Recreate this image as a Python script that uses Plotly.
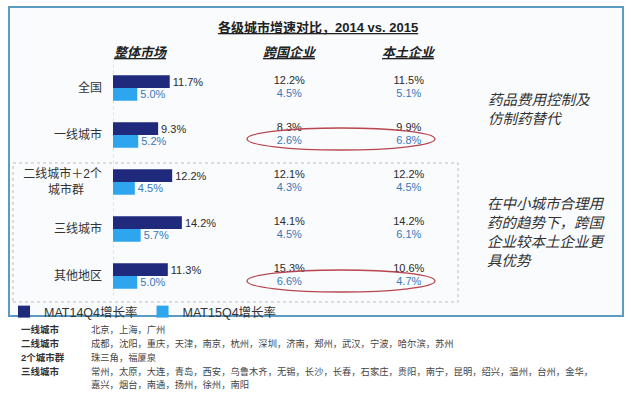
import plotly.graph_objects as go

W, H = 631, 395

# ---- data ----
categories = ["全国", "一线城市", "二线城市＋2个<br>城市群\u3000\u2002", "三线城市", "其他地区"]
series_names = ["MAT14Q4增长率", "MAT15Q4增长率"]
groups = ["跨国企业", "本土企业"]
total_14 = [11.7, 9.3, 12.2, 14.2, 11.3]
total_15 = [5.0, 5.2, 4.5, 5.7, 5.0]
mnc_14 = [12.2, 8.3, 12.1, 14.1, 15.3]
mnc_15 = [4.5, 2.6, 4.3, 4.5, 6.6]
local_14 = [11.5, 9.9, 12.2, 14.2, 10.6]
local_15 = [5.1, 6.8, 4.5, 6.1, 4.7]

note_labels = ["一线城市", "二线城市", "2个城市群", "三线城市", ""]
note_texts = [
    "北京，上海，广州",
    "成都，沈阳，重庆，天津，南京，杭州，深圳，济南，郑州，武汉，宁波，哈尔滨，苏州",
    "珠三角，福厦泉",
    "常州，太原，大连，青岛，西安，乌鲁木齐，无锡，长沙，长春，石家庄，贵阳，南宁，昆明，绍兴，温州，台州，金华，",
    "嘉兴，烟台，南通，扬州，徐州，南阳",
]

DARK = "#1f2a7c"
LIGHT = "#2ea6ef"
DARK_TXT = "#2b2b2b"
LIGHT_TXT = "#3a78b8"
FONT = "Liberation Sans, Arial, Noto Sans CJK SC, sans-serif"


def px(x):
    return x / W


def py(y):
    return 1 - y / H


rows = list(range(len(categories)))
pct = lambda arr: [f"{v:.1f}%" for v in arr]

fig = go.Figure()
fig.add_trace(go.Bar(
    y=rows, x=total_14, orientation="h", name=series_names[0],
    marker=dict(color=DARK, line=dict(width=0)), width=0.27, offset=-0.27,
    text=pct(total_14), textposition="outside", cliponaxis=False,
    textfont=dict(color=DARK_TXT, size=11), hoverinfo="skip",
))
fig.add_trace(go.Bar(
    y=rows, x=total_15, orientation="h", name=series_names[1],
    marker=dict(color=LIGHT, line=dict(width=0)), width=0.27, offset=0.0,
    text=pct(total_15), textposition="outside", cliponaxis=False,
    textfont=dict(color=LIGHT_TXT, size=11), hoverinfo="skip",
))

# company-type columns (text values)
for vals_a, vals_b, shift, color in [
    (mnc_14, local_14, -0.135, DARK_TXT),
    (mnc_15, local_15, 0.135, LIGHT_TXT),
]:
    fig.add_trace(go.Scatter(
        x=[groups[0]] * len(rows) + [groups[1]] * len(rows),
        y=[r + shift for r in rows] * 2,
        text=pct(vals_a) + pct(vals_b),
        mode="text", textposition="middle center",
        textfont=dict(color=color, size=11),
        xaxis="x2", yaxis="y", showlegend=False, hoverinfo="skip", cliponaxis=False,
    ))

shapes = [
    # outer frame
    dict(type="rect", xref="paper", yref="paper", x0=px(9), x1=px(623), y0=py(316), y1=py(7),
         line=dict(color="#5b9cc2", width=2), fillcolor="#f9fbfd", layer="below"),
    # dashed box for lower-tier group
    dict(type="rect", xref="paper", yref="paper", x0=px(13), x1=px(458), y0=py(302), y1=py(163),
         line=dict(color="#bdbdbd", width=1, dash="dot"), layer="below"),
    # baseline
    dict(type="line", xref="x", yref="y", x0=0, x1=0, y0=-0.5, y1=4.5,
         line=dict(color="#c8c8c8", width=1, dash="dot"), layer="below"),
    # highlight ellipses
    dict(type="circle", xref="paper", yref="paper", x0=px(247), x1=px(435), y0=py(150), y1=py(128),
         line=dict(color="#b8464f", width=1.3)),
    dict(type="circle", xref="paper", yref="paper", x0=px(247), x1=px(435), y0=py(292), y1=py(270),
         line=dict(color="#b8464f", width=1.3)),
]


def note(x, y, text, size, color="#333333", xanchor="center", align="center"):
    return dict(x=px(x), y=py(y), xref="paper", yref="paper", showarrow=False,
                xanchor=xanchor, yanchor="middle", align=align, text=text,
                font=dict(size=size, color=color))


ann = []
ann.append(note(318, 27, "<b><u>各级城市增速对比，2014 vs. 2015</u></b>", 13, "#222222"))
for label, cx in [("整体市场", 141), (groups[0], 290), (groups[1], 409)]:
    ann.append(note(cx, 52, f"<b><i><u>{label}</u></i></b>", 13, "#222222"))
ann.append(note(486, 109, "<i>药品费用控制及<br>仿制药替代</i>", 14.5, xanchor="left", align="left"))
ann.append(note(485, 232, "<i>在中小城市合理用<br>药的趋势下，跨国<br>企业较本土企业更<br>具优势</i>",
                14.5, xanchor="left", align="left"))
note_y = [329, 343, 357, 371, 384]
for lab, txt, yy in zip(note_labels, note_texts, note_y):
    if lab:
        ann.append(note(19, yy, f"<b>{lab}</b>", 9.5, xanchor="left", align="left"))
    ann.append(note(89, yy, txt, 9.3, "#444444", xanchor="left", align="left"))

fig.update_layout(
    width=W, height=H,
    margin=dict(l=0, r=0, t=0, b=0, autoexpand=False),
    paper_bgcolor="white", plot_bgcolor="rgba(0,0,0,0)",
    font=dict(family=FONT, color="#333333"),
    barmode="overlay",
    xaxis=dict(domain=[px(113), px(210)], range=[0, 20], showticklabels=False, showgrid=False,
               zeroline=False, showline=False, ticks="", automargin=False, fixedrange=True),
    xaxis2=dict(domain=[px(229.5), px(468.5)], range=[-0.5, 1.5], type="category",
                categoryorder="array", categoryarray=groups, anchor="y",
                showticklabels=False, showgrid=False, zeroline=False, showline=False,
                ticks="", automargin=False),
    yaxis=dict(domain=[py(299.5), py(64.5)], range=[4.5, -0.5], tickmode="array",
               tickvals=rows, ticktext=categories, showgrid=False, zeroline=False,
               showline=False, ticks="", ticklabelstandoff=10, automargin=False,
               tickfont=dict(size=12, color="#333333")),
    showlegend=True,
    legend=dict(orientation="h", x=px(4), y=py(297), xanchor="left", yanchor="top",
                bgcolor="rgba(0,0,0,0)", font=dict(size=12.5, color="#333333"),
                itemwidth=30, traceorder="normal", tracegroupgap=0),
    shapes=shapes,
    annotations=ann,
)

fig.write_html(
    "out.html",
    config={"displayModeBar": False},
    post_script="document.body.style.margin='0px';document.body.style.padding='0px';",
)
